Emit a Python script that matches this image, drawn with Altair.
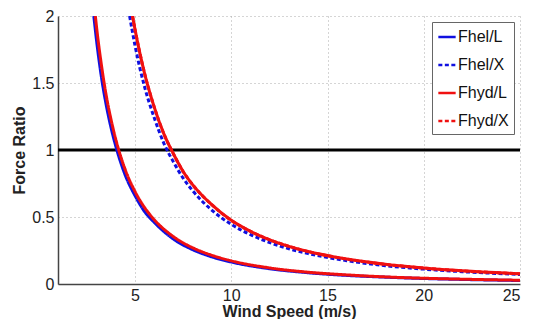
import altair as alt
import pandas as pd

# Series (wind speed in m/s, force ratio)
hel_L_v = [2.86, 3.0, 3.25, 3.5, 3.75, 4.0, 4.5, 5.0, 5.5, 6.0, 7.0, 8.0, 9.0, 10, 12, 14, 16, 18, 20, 22, 25]
hel_L_y = [2.0, 1.82, 1.55, 1.34, 1.17, 1.03, 0.81, 0.66, 0.54, 0.46, 0.335, 0.256, 0.202, 0.164, 0.114, 0.084, 0.064, 0.051, 0.041, 0.034, 0.026]

hyd_L_v = [2.94, 3.0, 3.25, 3.5, 3.75, 4.0, 4.5, 5.0, 5.5, 6.0, 7.0, 8.0, 9.0, 10, 12, 14, 16, 18, 20, 22, 25]
hyd_L_y = [2.0, 1.92, 1.64, 1.41, 1.23, 1.08, 0.85, 0.69, 0.57, 0.48, 0.353, 0.27, 0.214, 0.173, 0.12, 0.088, 0.068, 0.053, 0.043, 0.036, 0.028]

hel_X_v = [4.72, 5.0, 5.5, 6.0, 6.5, 7.0, 7.5, 8.0, 9.0, 10, 11, 12, 13, 14, 16, 18, 20, 22, 25]
hel_X_y = [2.0, 1.78, 1.47, 1.24, 1.05, 0.91, 0.79, 0.695, 0.55, 0.445, 0.368, 0.309, 0.263, 0.227, 0.174, 0.137, 0.111, 0.092, 0.071]

hyd_X_v = [4.87, 5.0, 5.5, 6.0, 6.5, 7.0, 7.5, 8.0, 9.0, 10, 11, 12, 13, 14, 16, 18, 20, 22, 25]
hyd_X_y = [2.0, 1.9, 1.57, 1.32, 1.12, 0.97, 0.84, 0.74, 0.59, 0.475, 0.393, 0.33, 0.281, 0.242, 0.186, 0.147, 0.119, 0.098, 0.076]

series_names = ["Fhel/L", "Fhel/X", "Fhyd/L", "Fhyd/X"]
series_colors = ["#1010e0", "#1010e0", "#f01010", "#f01010"]
series_dash = [[1, 0], [4, 2.5], [1, 0], [4, 2.5]]

x_ticks = [5, 10, 15, 20, 25]
y_ticks = [0, 0.5, 1, 1.5, 2]
ref_level = [1]

frames = []
for name, vs, ys in zip(series_names,
                        [hel_L_v, hel_X_v, hyd_L_v, hyd_X_v],
                        [hel_L_y, hel_X_y, hyd_L_y, hyd_X_y]):
    frames.append(pd.DataFrame({"v": vs, "r": ys, "series": name}))
df = pd.concat(frames, ignore_index=True)
df_hydX = df[df.series == "Fhyd/X"]

x_enc = alt.X("v:Q", scale=alt.Scale(domain=[1, 25], nice=False),
              axis=alt.Axis(values=x_ticks, title="Wind Speed (m/s)"))
y_enc = alt.Y("r:Q", scale=alt.Scale(domain=[0, 2], nice=False),
              axis=alt.Axis(values=y_ticks, title="Force Ratio", labelExpr="datum.value"))

rule = alt.Chart(pd.DataFrame({"r": ref_level})).mark_rule(
    color="black", strokeWidth=3
).encode(y=alt.Y("r:Q", scale=alt.Scale(domain=[0, 2], nice=False)))

lines = alt.Chart(df).mark_line(strokeWidth=3, interpolate="monotone", clip=True).encode(
    x=x_enc,
    y=y_enc,
    color=alt.Color("series:N", scale=alt.Scale(domain=series_names, range=series_colors),
                    legend=alt.Legend(title=None, orient="top-right", offset=6,
                                      symbolType="stroke", symbolSize=300,
                                      symbolStrokeWidth=2.5, labelFontSize=16,
                                      rowPadding=10, padding=5, labelOffset=1,
                                      strokeColor="#666666", fillColor="white",
                                      cornerRadius=0)),
    strokeDash=alt.StrokeDash("series:N", scale=alt.Scale(domain=series_names, range=series_dash),
                              legend=None),
    order=alt.Order("v:Q"),
)

top_red = alt.Chart(df_hydX).mark_line(strokeWidth=3, interpolate="monotone",
                                       color="#f01010", clip=True).encode(
    x=alt.X("v:Q"), y=alt.Y("r:Q"), order=alt.Order("v:Q"))

chart = alt.layer(rule, lines, top_red).properties(
    width=462, height=268,
    autosize=alt.AutoSizeParams(type="none"),
    padding={"left": 50, "top": 8, "right": 24, "bottom": 35},
).configure(
    font="Liberation Sans",
).configure_view(stroke=None).configure_axis(
    labelFontSize=16, labelColor="#222222", titleFontSize=16, titleFontWeight="bold",
    titleColor="#222222", domainColor="#444444", domainWidth=1.5, ticks=False,
    labelPadding=4, grid=True, gridColor="#aaaaaa", gridDash=[1, 3], gridWidth=1,
).configure_axisY(titlePadding=4).configure_axisX(titlePadding=0, labelPadding=3).configure_legend(
    labelFont="Liberation Sans", labelColor="#111111")

chart.save("out.html", embed_options={"renderer": "svg", "actions": False})
